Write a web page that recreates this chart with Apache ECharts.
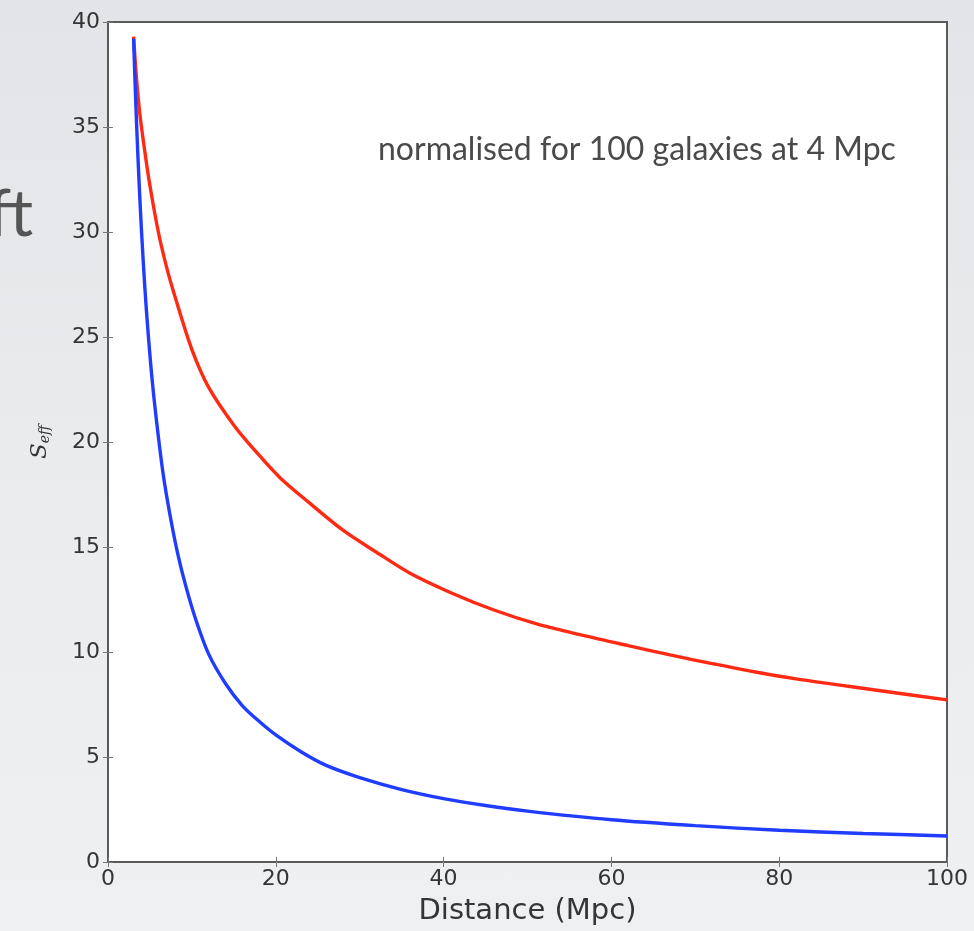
<!DOCTYPE html>
<html>
<head>
<meta charset="utf-8">
<script src="https://cdn.jsdelivr.net/npm/echarts@6/dist/echarts.min.js"></script>
<style>
  html, body { margin: 0; padding: 0; width: 974px; height: 931px; overflow: hidden;
    background: linear-gradient(180deg, #e2e4e7 0%, #eaecee 55%, #eff0f2 100%); }
  #chart { width: 974px; height: 931px; }
</style>
</head>
<body>
<div id="chart"></div>
<script>
// Effective S for two cases as a function of distance (Mpc)
const redDistance  = [3.05, 3.4, 3.8, 4.4, 5.0, 6.0, 7.0, 8.0, 10.0, 12.0, 15.0, 17.5, 20.5, 24.0, 28.0, 32.0, 36.0, 41.0, 46.0, 51.0, 56.5, 62.0, 67.0, 72.0, 77.0, 82.0, 88.0, 94.0, 100.0];
const redSeff      = [39.3, 37.3, 35.6, 33.8, 32.2, 30.0, 28.3, 26.9, 24.4, 22.6, 20.8, 19.6, 18.3, 17.1, 15.8, 14.75, 13.75, 12.8, 12.0, 11.35, 10.8, 10.3, 9.86, 9.45, 9.06, 8.72, 8.38, 8.05, 7.72];

const blueDistance = [3.05, 3.2, 3.4, 3.7, 4.0, 4.4, 4.8, 5.3, 5.9, 6.6, 7.4, 8.3, 9.3, 10.5, 12.0, 14.0, 16.0, 18.0, 20.0, 23.0, 26.0, 30.0, 35.0, 40.0, 45.0, 50.0, 60.0, 70.0, 80.0, 90.0, 100.0];
const blueSeff     = [39.2, 37.4, 35.2, 32.4, 30.0, 27.3, 25.1, 22.8, 20.6, 18.4, 16.5, 14.7, 13.1, 11.5, 9.9, 8.5, 7.45, 6.7, 6.05, 5.25, 4.6, 4.02, 3.45, 3.02, 2.69, 2.42, 2.01, 1.73, 1.51, 1.36, 1.24];

const xTickMin = 0, xTickMax = 100, xTickStep = 20;
const yTickMin = 0, yTickMax = 40, yTickStep = 5;

const annotation = 'normalised for 100 galaxies at 4 Mpc';
const xTitle = 'Distance (Mpc)';

const pairs = (xs, ys) => xs.map((x, i) => [x, ys[i]]);

const tickFont = { fontFamily: 'DejaVu Sans', fontSize: 22, color: '#353535' };
const frameColor = '#5a5a5a';
const tickStyle = { show: true, inside: true, length: 5, lineStyle: { color: '#777', width: 1 } };

const chart = echarts.init(document.getElementById('chart'), null, { renderer: 'canvas' });

const hiddenAxisCommon = {
  axisLine: { show: false },
  axisLabel: { show: false },
  splitLine: { show: false },
  axisTick: tickStyle
};

chart.setOption({
  animation: false,
  backgroundColor: 'transparent',
  grid: {
    left: 108, top: 22, right: 27, bottom: 69,
    show: true, backgroundColor: '#ffffff',
    borderColor: frameColor, borderWidth: 2
  },
  xAxis: [{
    type: 'value', min: xTickMin, max: xTickMax, interval: xTickStep,
    position: 'bottom',
    name: xTitle, nameLocation: 'middle', nameGap: 35,
    nameTextStyle: { fontFamily: 'DejaVu Sans', fontSize: 29, color: '#353535' },
    axisLine: { show: false },
    axisTick: tickStyle,
    axisLabel: Object.assign({ margin: 6 }, tickFont),
    splitLine: { show: false }
  }, Object.assign({
    type: 'value', min: xTickMin, max: xTickMax, interval: xTickStep, position: 'top'
  }, hiddenAxisCommon)],
  yAxis: [{
    type: 'value', min: yTickMin, max: yTickMax, interval: yTickStep,
    position: 'left',
    name: '{s|S}{sub|eff}', nameLocation: 'middle', nameRotate: 90, nameGap: 56,
    nameTextStyle: {
      rich: {
        s: { fontFamily: 'DejaVu Serif', fontStyle: 'italic', fontSize: 23, color: '#353535' },
        sub: { fontFamily: 'DejaVu Serif', fontStyle: 'italic', fontSize: 14, color: '#353535', padding: [10, 0, 0, 0] }
      }
    },
    axisLine: { show: false },
    axisTick: tickStyle,
    axisLabel: Object.assign({ margin: 8 }, tickFont),
    splitLine: { show: false }
  }, Object.assign({
    type: 'value', min: yTickMin, max: yTickMax, interval: yTickStep, position: 'right'
  }, hiddenAxisCommon)],
  series: [{
    type: 'line', name: 'red', xAxisIndex: 0, yAxisIndex: 0,
    data: pairs(redDistance, redSeff),
    showSymbol: false, smooth: 0.3,
    lineStyle: { color: '#ff2a14', width: 3.4 }
  }, {
    type: 'line', name: 'blue', xAxisIndex: 0, yAxisIndex: 0,
    data: pairs(blueDistance, blueSeff),
    showSymbol: false, smooth: 0.3,
    lineStyle: { color: '#1f3cff', width: 3.4 }
  }],
  graphic: [{
    type: 'text', left: 378, top: 134,
    style: { text: annotation, fontFamily: 'Lato', fontSize: 32, fill: '#4a4a4a' }
  }, {
    type: 'text', left: -12, top: 182,
    style: { text: 'ft', fontFamily: 'Lato', fontSize: 66, fill: '#555555' }
  }]
});
</script>
</body>
</html>
